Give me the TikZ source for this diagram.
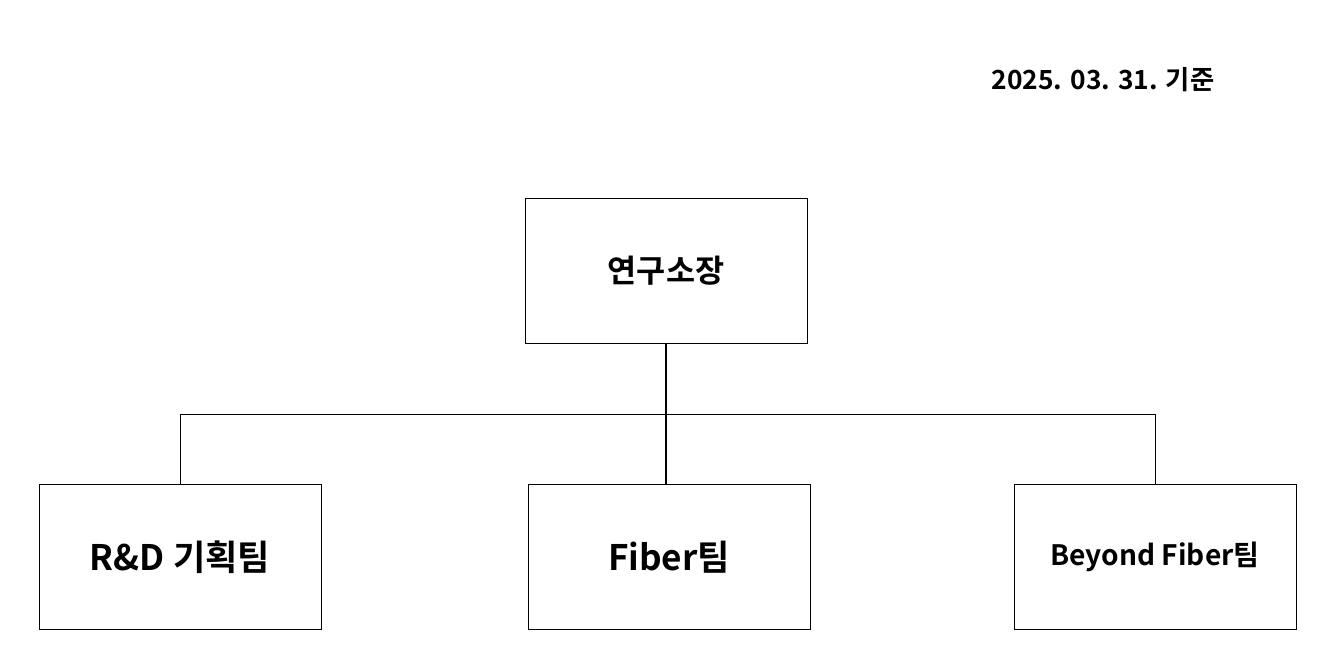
\documentclass[tikz,border=0pt]{standalone}
\usepackage{fontspec}
\setmainfont{Noto Sans CJK KR}[BoldFont={* Bold}]
\begin{document}
\begin{tikzpicture}[x=0.02cm, y=-0.02cm, font=\bfseries,
    orgbox/.style={draw, thin, minimum width=5.64cm, minimum height=2.9cm, inner sep=0pt}]
    \useasboundingbox (0,0) rectangle (1338,654);
    % date
    \node[font=\bfseries\fontsize{15}{18}\selectfont] (date) at (1103,80) {2025. 03. 31. 기준};
    % boxes
    \node[orgbox, font=\bfseries\fontsize{18}{22}\selectfont] (head) at (666,271) {연구소장};
    \node[orgbox, font=\bfseries\fontsize{20}{24}\selectfont] (plan) at (180,557) {R\&D 기획팀};
    \node[orgbox, font=\bfseries\fontsize{20}{24}\selectfont] (fiber) at (669,557) {Fiber팀};
    \node[orgbox, font=\bfseries\fontsize{16}{20}\selectfont] (beyond) at (1155,557) {Beyond Fiber팀};
    % connectors
    \coordinate (bus) at (666,414);
    \draw[thick] (head.south) -- (head.south |- fiber.north);
    \draw (plan.north) |- (bus) -| (beyond.north);
\end{tikzpicture}
\end{document}
